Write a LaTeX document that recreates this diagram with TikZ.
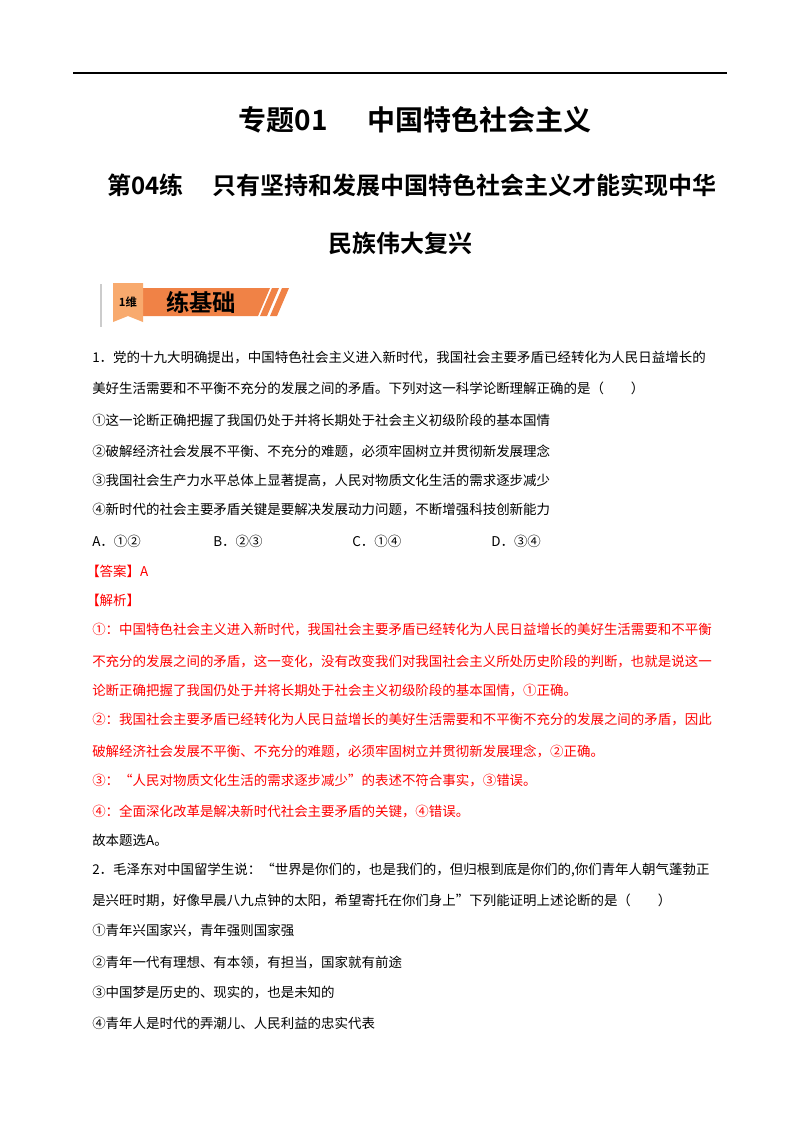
\documentclass[tikz,border=0pt]{standalone}
\usepackage{fontspec}
\setmainfont{Noto Sans CJK SC}
\newfontfamily\cjkb{Noto Sans CJK SC Bold}
\definecolor{redtxt}{RGB}{255,0,0}
\definecolor{orangebar}{RGB}{240,130,70}
\definecolor{orangetag}{RGB}{248,170,110}
\begin{document}
\begin{tikzpicture}[x=0.75pt,y=-0.75pt,
  body/.style={anchor=west,inner sep=0pt,font=\fontsize{10.1}{12}\selectfont},
  redbody/.style={body,text=redtxt},
  head/.style={inner sep=0pt,font=\cjkb\fontsize{18}{20}\selectfont}]
\useasboundingbox (0,0) rectangle (800,1132);
\fill[white] (0,0) rectangle (800,1132);
\draw[line width=1.5pt] (73,73) -- (727,73);
\node[head,font=\cjkb\fontsize{21}{22}\selectfont] (t1) at (415,120) {专题01\hspace{1.4em}中国特色社会主义};
\node[head,anchor=west] (t2) at (107,185) {第04练\hspace{1.2em}只有坚持和发展中国特色社会主义才能实现中华};
\node[head] (t3) at (400,243) {民族伟大复兴};
% banner
\draw[gray!40,line width=0.8pt] (101,284) -- (101,327);
\fill[orangebar] (140,288) -- (270,288) -- (258,316) -- (140,316) -- cycle;
\fill[orangebar] (272,288) -- (279,288) -- (267,316) -- (260,316) -- cycle;
\fill[orangebar] (282,288) -- (289,288) -- (277,316) -- (270,316) -- cycle;
\fill[orangetag] (113,283) -- (143,283) -- (143,322) -- (128,316) -- (113,322) -- cycle;
\node[inner sep=0pt,font=\cjkb\fontsize{8.5}{9}\selectfont] (b1) at (128,302) {1维};
\node[inner sep=0pt,font=\cjkb\fontsize{17.5}{18}\selectfont] (b2) at (201,302) {练基础};
% question 1
\node[body] (l1) at (92,358) {1．党的十九大明确提出，中国特色社会主义进入新时代，我国社会主要矛盾已经转化为人民日益增长的};
\node[body] (l2) at (92,388) {美好生活需要和不平衡不充分的发展之间的矛盾。下列对这一科学论断理解正确的是（\quad\quad ）};
\node[body] (l3) at (92,420) {①这一论断正确把握了我国仍处于并将长期处于社会主义初级阶段的基本国情};
\node[body] (l4) at (92,451) {②破解经济社会发展不平衡、不充分的难题，必须牢固树立并贯彻新发展理念};
\node[body] (l5) at (92,481) {③我国社会生产力水平总体上显著提高，人民对物质文化生活的需求逐步减少};
\node[body] (l6) at (92,510) {④新时代的社会主要矛盾关键是要解决发展动力问题，不断增强科技创新能力};
\node[body] (oa) at (92,541) {A．①②};
\node[body] (ob) at (213,541) {B．②③};
\node[body] (oc) at (352,541) {C．①④};
\node[body] (od) at (491,541) {D．③④};
\node[redbody] (ans) at (86,571) {【答案】A};
\node[redbody] (jx) at (86,600) {【解析】};
\node[redbody] (r1) at (92,630) {①：中国特色社会主义进入新时代，我国社会主要矛盾已经转化为人民日益增长的美好生活需要和不平衡};
\node[redbody] (r2) at (92,661) {不充分的发展之间的矛盾，这一变化，没有改变我们对我国社会主义所处历史阶段的判断，也就是说这一};
\node[redbody] (r3) at (92,691) {论断正确把握了我国仍处于并将长期处于社会主义初级阶段的基本国情，①正确。};
\node[redbody] (r4) at (92,720) {②：我国社会主要矛盾已经转化为人民日益增长的美好生活需要和不平衡不充分的发展之间的矛盾，因此};
\node[redbody] (r5) at (92,751) {破解经济社会发展不平衡、不充分的难题，必须牢固树立并贯彻新发展理念，②正确。};
\node[redbody] (r6) at (92,781) {③：“人民对物质文化生活的需求逐步减少”的表述不符合事实，③错误。};
\node[redbody] (r7) at (92,811) {④：全面深化改革是解决新时代社会主要矛盾的关键，④错误。};
\node[body] (gb) at (92,840) {故本题选A。};
% question 2
\node[body] (q1) at (92,870) {2．毛泽东对中国留学生说：“世界是你们的，也是我们的，但归根到底是你们的,你们青年人朝气蓬勃正};
\node[body] (q2) at (92,900) {是兴旺时期，好像早晨八九点钟的太阳，希望寄托在你们身上”下列能证明上述论断的是（\quad\quad ）};
\node[body] (q3) at (92,931) {①青年兴国家兴，青年强则国家强};
\node[body] (q4) at (92,962) {②青年一代有理想、有本领，有担当，国家就有前途};
\node[body] (q5) at (92,993) {③中国梦是历史的、现实的，也是未知的};
\node[body] (q6) at (92,1023) {④青年人是时代的弄潮儿、人民利益的忠实代表};
\end{tikzpicture}
\end{document}
